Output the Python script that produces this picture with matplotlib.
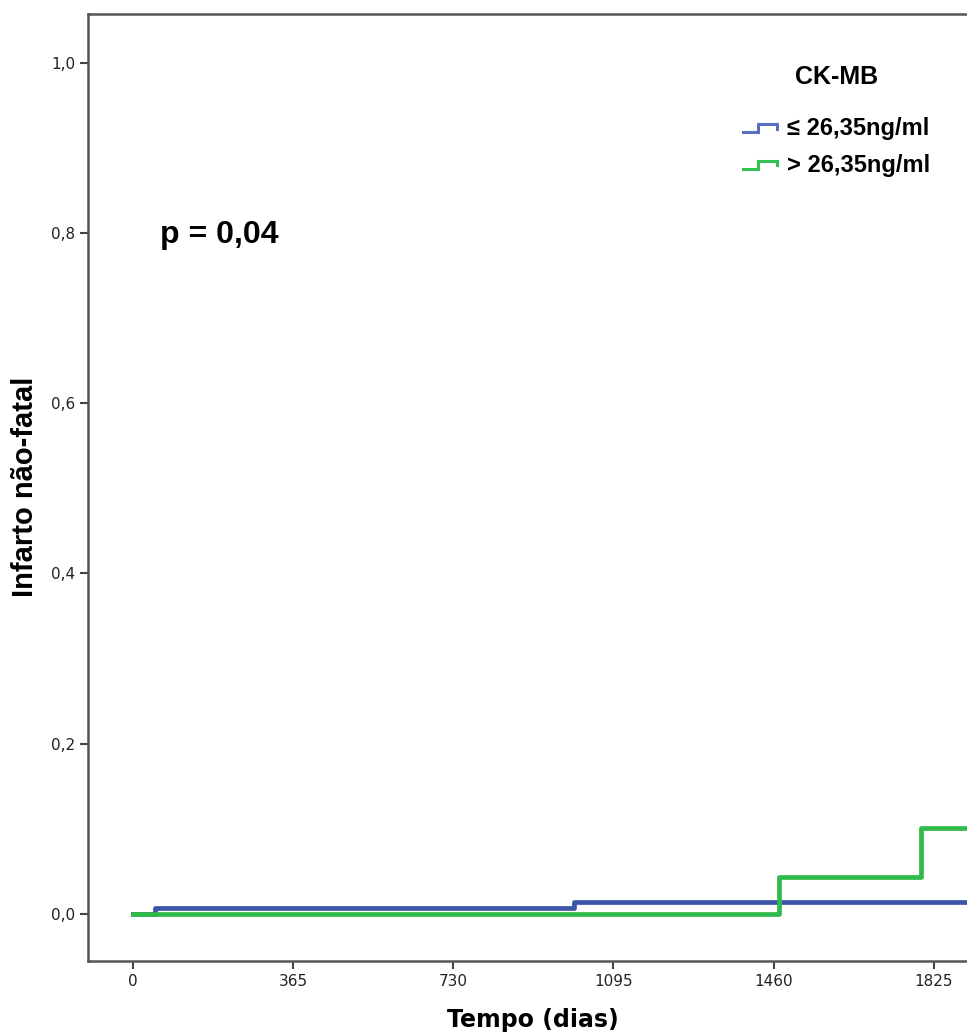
import matplotlib
matplotlib.use("Agg")
import matplotlib.pyplot as plt
from matplotlib.legend_handler import HandlerBase
from matplotlib.lines import Line2D

# Cumulative incidence steps (day, value) for each CK-MB group
low_days = [0, 50, 1005, 1900]
low_vals = [0.0, 0.007, 0.014, 0.014]
high_days = [0, 1472, 1795, 1900]
high_vals = [0.0, 0.0435, 0.101, 0.101]

group_labels = ["\u2264 26,35ng/ml", "> 26,35ng/ml"]
x_ticks = [0, 365, 730, 1095, 1460, 1825]
y_ticks = [0.0, 0.2, 0.4, 0.6, 0.8, 1.0]

blue = "#3b55a8"
green = "#2fba4b"

plt.rcParams['font.family'] = ['Liberation Sans Narrow', 'DejaVu Sans']
bold_font = ['Liberation Sans', 'DejaVu Sans']


class StepHandler(HandlerBase):
    # small step-shaped legend icon
    def create_artists(self, legend, orig_handle, xdescent, ydescent,
                       width, height, fontsize, trans):
        w, h = width, height
        xs = [-xdescent, 0.45 * w, 0.45 * w, w, w]
        ys = [0.2 * h, 0.2 * h, 0.65 * h, 0.65 * h, 0.4 * h]
        line = Line2D(xs, ys, color=orig_handle.get_color(), lw=2.2,
                      solid_joinstyle='miter', transform=trans)
        return [line]


fig = plt.figure(figsize=(9.67, 10.35), dpi=100)
ax = fig.add_axes([88 / 967, 74 / 1035, 1.09, 947 / 1035])

ax.step(low_days, low_vals, where='post', color=blue, lw=3.4, zorder=2)
ax.step(high_days, high_vals, where='post', color=green, lw=3.4, zorder=3)

ax.set_xlim(-102.8, 2300)
ax.set_ylim(-0.0555, 1.0576)
ax.set_xticks(x_ticks)
ax.set_xticklabels([str(t) for t in x_ticks])
ax.set_yticks(y_ticks)
ax.set_yticklabels([f"{t:.1f}".replace('.', ',') for t in y_ticks])
ax.tick_params(axis='both', direction='out', length=6, width=1.5,
               color='#444444', labelsize=11, labelcolor='#222222', pad=3)

for s in ax.spines.values():
    s.set_color('#555555')
    s.set_linewidth(1.8)

ax.set_xlabel("Tempo (dias)", fontsize=17, fontweight='bold', va='center')
ax.xaxis.set_label_coords(533 / 967, 1 - 1020 / 1035, transform=fig.transFigure)
ax.set_ylabel("Infarto não-fatal", fontsize=21, fontweight='bold',
              family=bold_font, va='center')
ax.yaxis.set_label_coords(25 / 967, 1 - 487 / 1035, transform=fig.transFigure)

fig.text(160 / 967, 1 - 235 / 1035, "p = 0,04", fontsize=23, fontweight='bold',
         va='center', ha='left', family=bold_font)

handles = [Line2D([], [], color='#5a6fc2'), Line2D([], [], color='#33c052')]
leg = fig.legend(handles, group_labels, title="CK-MB",
                 handler_map={Line2D: StepHandler()},
                 loc='upper left', bbox_to_anchor=(734 / 967, 1 - 56 / 1035),
                 frameon=False, handlelength=1.4, handletextpad=0.45,
                 labelspacing=0.58, borderaxespad=0,
                 prop={'weight': 'bold', 'size': 17, 'family': bold_font},
                 title_fontproperties={'weight': 'bold', 'size': 18,
                                       'family': bold_font})
leg._legend_box.sep = 20

fig.savefig("out.png", dpi=100)
